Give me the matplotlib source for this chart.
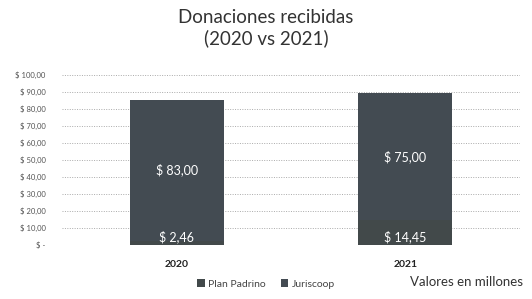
import matplotlib.pyplot as plt
import numpy as np

years = ["2020", "2021"]
plan_padrino = [2.46, 14.45]
juriscoop = [83.00, 75.00]
yticks = [0, 10, 20, 30, 40, 50, 60, 70, 80, 90, 100]


def money(v):
    if v == 0:
        return "$ -"
    return "$ " + f"{v:.2f}".replace(".", ",")


plt.rcParams['font.family'] = ['Lato', 'DejaVu Sans']

fig = plt.figure(figsize=(5.32, 2.99), dpi=100)
ax = fig.add_axes([0.117, 0.181, 0.86, 0.568])

x = np.arange(len(years))
b1 = ax.bar(x, plan_padrino, width=0.41, color="#42494a", label="Plan Padrino", zorder=2)
b2 = ax.bar(x, juriscoop, width=0.41, bottom=plan_padrino, color="#434b52",
            label="Juriscoop", zorder=2)

for i, v in enumerate(plan_padrino):
    ax.annotate(money(v), (x[i], 0), xytext=(0, 1.5), textcoords="offset points",
                ha="center", va="bottom", color="white", fontsize=9)
ax.bar_label(b2, labels=[money(v) for v in juriscoop], label_type="center",
             color="white", fontsize=9)

ax.set_xlim(-0.5, 1.5)
ax.set_ylim(0, 100)
ax.set_yticks(yticks)
ax.set_yticklabels([money(v) for v in yticks], fontsize=5.5, color="#555555")
ax.set_xticks(x)
ax.set_xticklabels(years, fontsize=7.5, fontweight="bold", color="#222222")
ax.tick_params(length=0, pad=12, axis="y")
ax.tick_params(length=0, pad=11, axis="x")
ax.yaxis.grid(True, linestyle=(0, (1, 1.5)), color="#aaaaaa", linewidth=0.7, zorder=0)
for s in ax.spines.values():
    s.set_visible(False)

fig.suptitle("Donaciones recibidas\n(2020 vs 2021)", x=0.5, y=0.97, fontsize=13.5,
             color="#333333", linespacing=1.25)

ax.legend(loc="center", bbox_to_anchor=(0.5, 0.05), bbox_transform=fig.transFigure,
          ncol=2, frameon=False, fontsize=7.5, handlelength=0.7, handleheight=0.7,
          handletextpad=0.3, columnspacing=1.5, labelcolor="#444444")
fig.text(0.983, 0.057, "Valores en millones", ha="right", va="center", fontsize=9.5,
         color="#333333")

fig.savefig("out.png", dpi=100)
